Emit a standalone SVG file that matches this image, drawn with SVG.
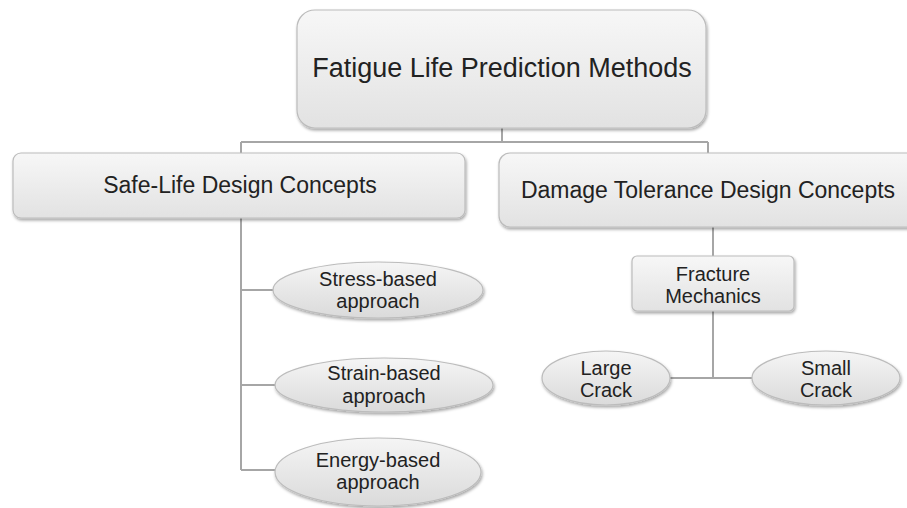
<svg xmlns="http://www.w3.org/2000/svg" width="907" height="508" viewBox="0 0 907 508">
<defs>
<linearGradient id="gb" x1="0" y1="0" x2="0" y2="1">
<stop offset="0" stop-color="#f7f7f7"/>
<stop offset="1" stop-color="#e2e2e2"/>
</linearGradient>
<linearGradient id="ge" x1="0" y1="0" x2="0" y2="1">
<stop offset="0" stop-color="#f5f5f5"/>
<stop offset="1" stop-color="#dadada"/>
</linearGradient>
<filter id="sh" x="-10%" y="-10%" width="120%" height="130%">
<feDropShadow dx="1" dy="2" stdDeviation="1.5" flood-color="#000" flood-opacity="0.35"/>
</filter>
</defs>
<style>
.box{fill:url(#gb);stroke:#bcbcbc;stroke-width:1.2;filter:url(#sh)}
.ell{fill:url(#ge);stroke:#bcbcbc;stroke-width:1.2;filter:url(#sh)}
.t{font-family:"Liberation Sans",Arial,sans-serif;fill:#222;text-anchor:middle}
.con{fill:none;stroke:#a6a6a6;stroke-width:2}
</style>
<rect width="907" height="508" fill="#fff"/>
<g id="connectors">
<path class="con" d="M502 128V142M241 142H708M241 142V153M708 142V153"/>
<path class="con" d="M241 218V470M241 290H274M241 385H276M241 470H276"/>
<path class="con" d="M713 227V256M713 311V378M670 378H752"/>
</g>
<g id="root">
<rect class="box" x="297" y="10" width="409" height="118" rx="18"/>
<text class="t" x="502" y="77" font-size="27">Fatigue Life Prediction Methods</text>
</g>
<g id="safe-life">
<rect class="box" x="13" y="153" width="452" height="65" rx="8"/>
<text class="t" x="240" y="193" font-size="23">Safe-Life Design Concepts</text>
</g>
<g id="damage-tolerance">
<rect class="box" x="499" y="153" width="440" height="74" rx="11"/>
<text class="t" x="708" y="198" font-size="23">Damage Tolerance Design Concepts</text>
</g>
<g id="stress">
<ellipse class="ell" cx="378" cy="290" rx="105" ry="28"/>
<text class="t" x="378" y="286" font-size="20">Stress-based</text>
<text class="t" x="378" y="308" font-size="20">approach</text>
</g>
<g id="strain">
<ellipse class="ell" cx="384" cy="385" rx="109" ry="27"/>
<text class="t" x="384" y="380" font-size="20">Strain-based</text>
<text class="t" x="384" y="403" font-size="20">approach</text>
</g>
<g id="energy">
<ellipse class="ell" cx="378" cy="472" rx="103" ry="34"/>
<text class="t" x="378" y="467" font-size="20">Energy-based</text>
<text class="t" x="378" y="489" font-size="20">approach</text>
</g>
<g id="fracture">
<rect class="box" x="632" y="256" width="162" height="55" rx="5"/>
<text class="t" x="713" y="281" font-size="20">Fracture</text>
<text class="t" x="713" y="303" font-size="20">Mechanics</text>
</g>
<g id="large-crack">
<ellipse class="ell" cx="606" cy="378" rx="64" ry="27"/>
<text class="t" x="606" y="375" font-size="20">Large</text>
<text class="t" x="606" y="397" font-size="20">Crack</text>
</g>
<g id="small-crack">
<ellipse class="ell" cx="826" cy="378" rx="74" ry="27"/>
<text class="t" x="826" y="375" font-size="20">Small</text>
<text class="t" x="826" y="397" font-size="20">Crack</text>
</g>
</svg>
